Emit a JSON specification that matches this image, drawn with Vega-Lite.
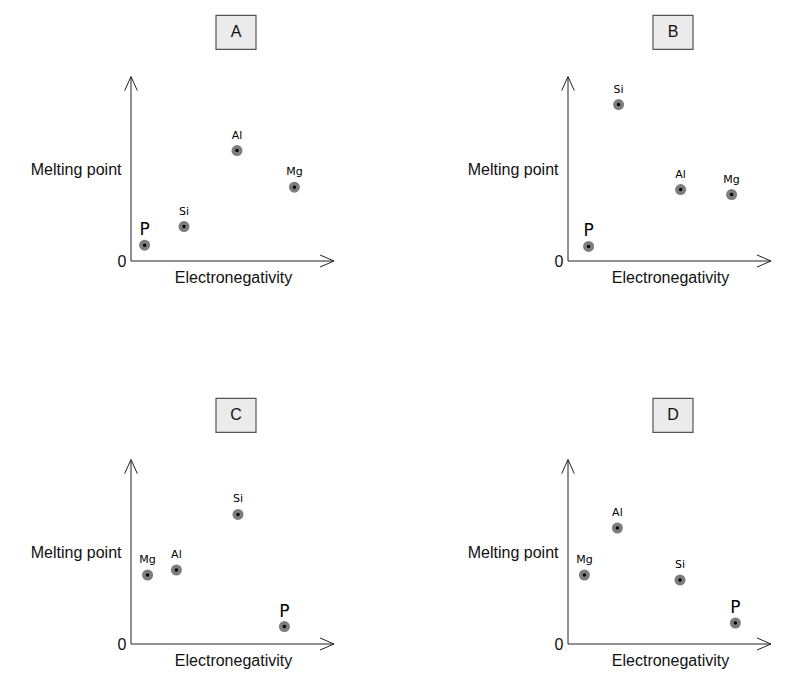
{
  "$schema": "https://vega.github.io/schema/vega-lite/v6.json",
  "padding": {"left": 30, "top": 14, "right": 5, "bottom": 5},
  "background": "white",
  "config": {
    "view": {"stroke": null},
    "font": "Liberation Sans"
  },
  "data": {
    "values": [
      {"panel": "A", "r": 1, "c": 1, "kind": "frame"},
      {"panel": "B", "r": 1, "c": 2, "kind": "frame"},
      {"panel": "C", "r": 2, "c": 1, "kind": "frame"},
      {"panel": "D", "r": 2, "c": 2, "kind": "frame"},
      {"panel": "A", "r": 1, "c": 1, "kind": "el", "el": "P", "en": 0.68, "mp": 0.79},
      {"panel": "A", "r": 1, "c": 1, "kind": "el", "el": "Si", "en": 2.65, "mp": 1.72},
      {"panel": "A", "r": 1, "c": 1, "kind": "el", "el": "Al", "en": 5.3, "mp": 5.52},
      {"panel": "A", "r": 1, "c": 1, "kind": "el", "el": "Mg", "en": 8.17, "mp": 3.69},
      {"panel": "B", "r": 1, "c": 2, "kind": "el", "el": "P", "en": 1.03, "mp": 0.73},
      {"panel": "B", "r": 1, "c": 2, "kind": "el", "el": "Si", "en": 2.53, "mp": 7.82},
      {"panel": "B", "r": 1, "c": 2, "kind": "el", "el": "Al", "en": 5.63, "mp": 3.57},
      {"panel": "B", "r": 1, "c": 2, "kind": "el", "el": "Mg", "en": 8.18, "mp": 3.32},
      {"panel": "C", "r": 2, "c": 1, "kind": "el", "el": "Mg", "en": 0.83, "mp": 3.45},
      {"panel": "C", "r": 2, "c": 1, "kind": "el", "el": "Al", "en": 2.27, "mp": 3.7},
      {"panel": "C", "r": 2, "c": 1, "kind": "el", "el": "Si", "en": 5.35, "mp": 6.48},
      {"panel": "C", "r": 2, "c": 1, "kind": "el", "el": "P", "en": 7.67, "mp": 0.87},
      {"panel": "D", "r": 2, "c": 2, "kind": "el", "el": "Mg", "en": 0.82, "mp": 3.45},
      {"panel": "D", "r": 2, "c": 2, "kind": "el", "el": "Al", "en": 2.47, "mp": 5.8},
      {"panel": "D", "r": 2, "c": 2, "kind": "el", "el": "Si", "en": 5.6, "mp": 3.2},
      {"panel": "D", "r": 2, "c": 2, "kind": "el", "el": "P", "en": 8.37, "mp": 1.05}
    ]
  },
  "facet": {
    "row": {"field": "r", "type": "ordinal", "header": null, "title": null},
    "column": {"field": "c", "type": "ordinal", "header": null, "title": null}
  },
  "spacing": {"row": 112, "column": 130},
  "resolve": {"axis": {"x": "independent", "y": "independent"}},
  "spec": {
    "width": 204,
    "height": 246,
    "layer": [
      {
        "transform": [{"filter": "datum.kind === 'el'"}],
        "mark": {"type": "point", "shape": "circle", "filled": true, "size": 121, "color": "#7d7d7d", "opacity": 1},
        "encoding": {
          "x": {
            "field": "en", "type": "quantitative",
            "scale": {"domain": [0, 10.2], "nice": false, "zero": false},
            "axis": {"title": "Electronegativity", "labels": false, "ticks": false, "domain": false, "grid": false,
                     "titleFontSize": 16, "titleFontWeight": "normal", "titleColor": "#111", "titlePadding": 8}
          },
          "y": {
            "field": "mp", "type": "quantitative",
            "scale": {"domain": [0, 12.3], "nice": false, "zero": false},
            "axis": {"title": "Melting point", "values": [0], "ticks": false, "tickSize": 0, "domain": false, "grid": false,
                     "labelFontSize": 16, "labelColor": "#111", "labelPadding": 5,
                     "titleAngle": 0, "titleAlign": "right", "titleBaseline": "middle", "titleX": -10, "titleY": 154,
                     "titleFontSize": 16, "titleFontWeight": "normal", "titleColor": "#111"}
          }
        }
      },
      {
        "transform": [{"filter": "datum.kind === 'el'"}],
        "mark": {"type": "point", "shape": "circle", "filled": true, "size": 12, "color": "#000", "opacity": 1},
        "encoding": {
          "x": {"field": "en", "type": "quantitative"},
          "y": {"field": "mp", "type": "quantitative"}
        }
      },
      {
        "transform": [{"filter": "datum.kind === 'el'"}],
        "mark": {"type": "text", "font": "DejaVu Sans", "baseline": "middle", "align": "center", "dy": -15, "color": "#000"},
        "encoding": {
          "x": {"field": "en", "type": "quantitative"},
          "y": {"field": "mp", "type": "quantitative"},
          "text": {"field": "el"},
          "size": {"condition": {"test": "datum.el === 'P'", "value": 17}, "value": 11}
        }
      },
      {
        "transform": [{"filter": "datum.kind === 'frame'"}],
        "mark": {"type": "rule", "color": "#222", "strokeWidth": 1},
        "encoding": {
          "x": {"datum": 0},
          "y": {"datum": 0},
          "y2": {"datum": 9.22}
        }
      },
      {
        "transform": [{"filter": "datum.kind === 'frame'"}],
        "mark": {"type": "rule", "color": "#222", "strokeWidth": 1},
        "encoding": {
          "x": {"datum": 0},
          "x2": {"datum": 10.15},
          "y": {"datum": 0}
        }
      },
      {
        "transform": [{"filter": "datum.kind === 'frame'"}],
        "mark": {"type": "point", "shape": "M-0.45,1L0,0L0.45,1", "filled": false, "size": 784, "stroke": "#222", "strokeWidth": 1, "opacity": 1},
        "encoding": {
          "x": {"datum": 0},
          "y": {"datum": 9.22}
        }
      },
      {
        "transform": [{"filter": "datum.kind === 'frame'"}],
        "mark": {"type": "point", "shape": "M-1,-0.43L0,0L-1,0.43", "filled": false, "size": 784, "stroke": "#222", "strokeWidth": 1, "opacity": 1},
        "encoding": {
          "x": {"datum": 10.15},
          "y": {"datum": 0}
        }
      },
      {
        "transform": [{"filter": "datum.kind === 'frame'"}],
        "mark": {"type": "rect", "fill": "#ebebeb", "stroke": "#555", "strokeWidth": 1.2},
        "encoding": {
          "x": {"datum": 4.25},
          "x2": {"datum": 6.25},
          "y": {"datum": 10.58},
          "y2": {"datum": 12.28}
        }
      },
      {
        "transform": [{"filter": "datum.kind === 'frame'"}],
        "mark": {"type": "text", "fontSize": 16, "baseline": "middle", "align": "center", "color": "#111"},
        "encoding": {
          "x": {"datum": 5.25},
          "y": {"datum": 11.43},
          "text": {"field": "panel"}
        }
      }
    ]
  }
}
